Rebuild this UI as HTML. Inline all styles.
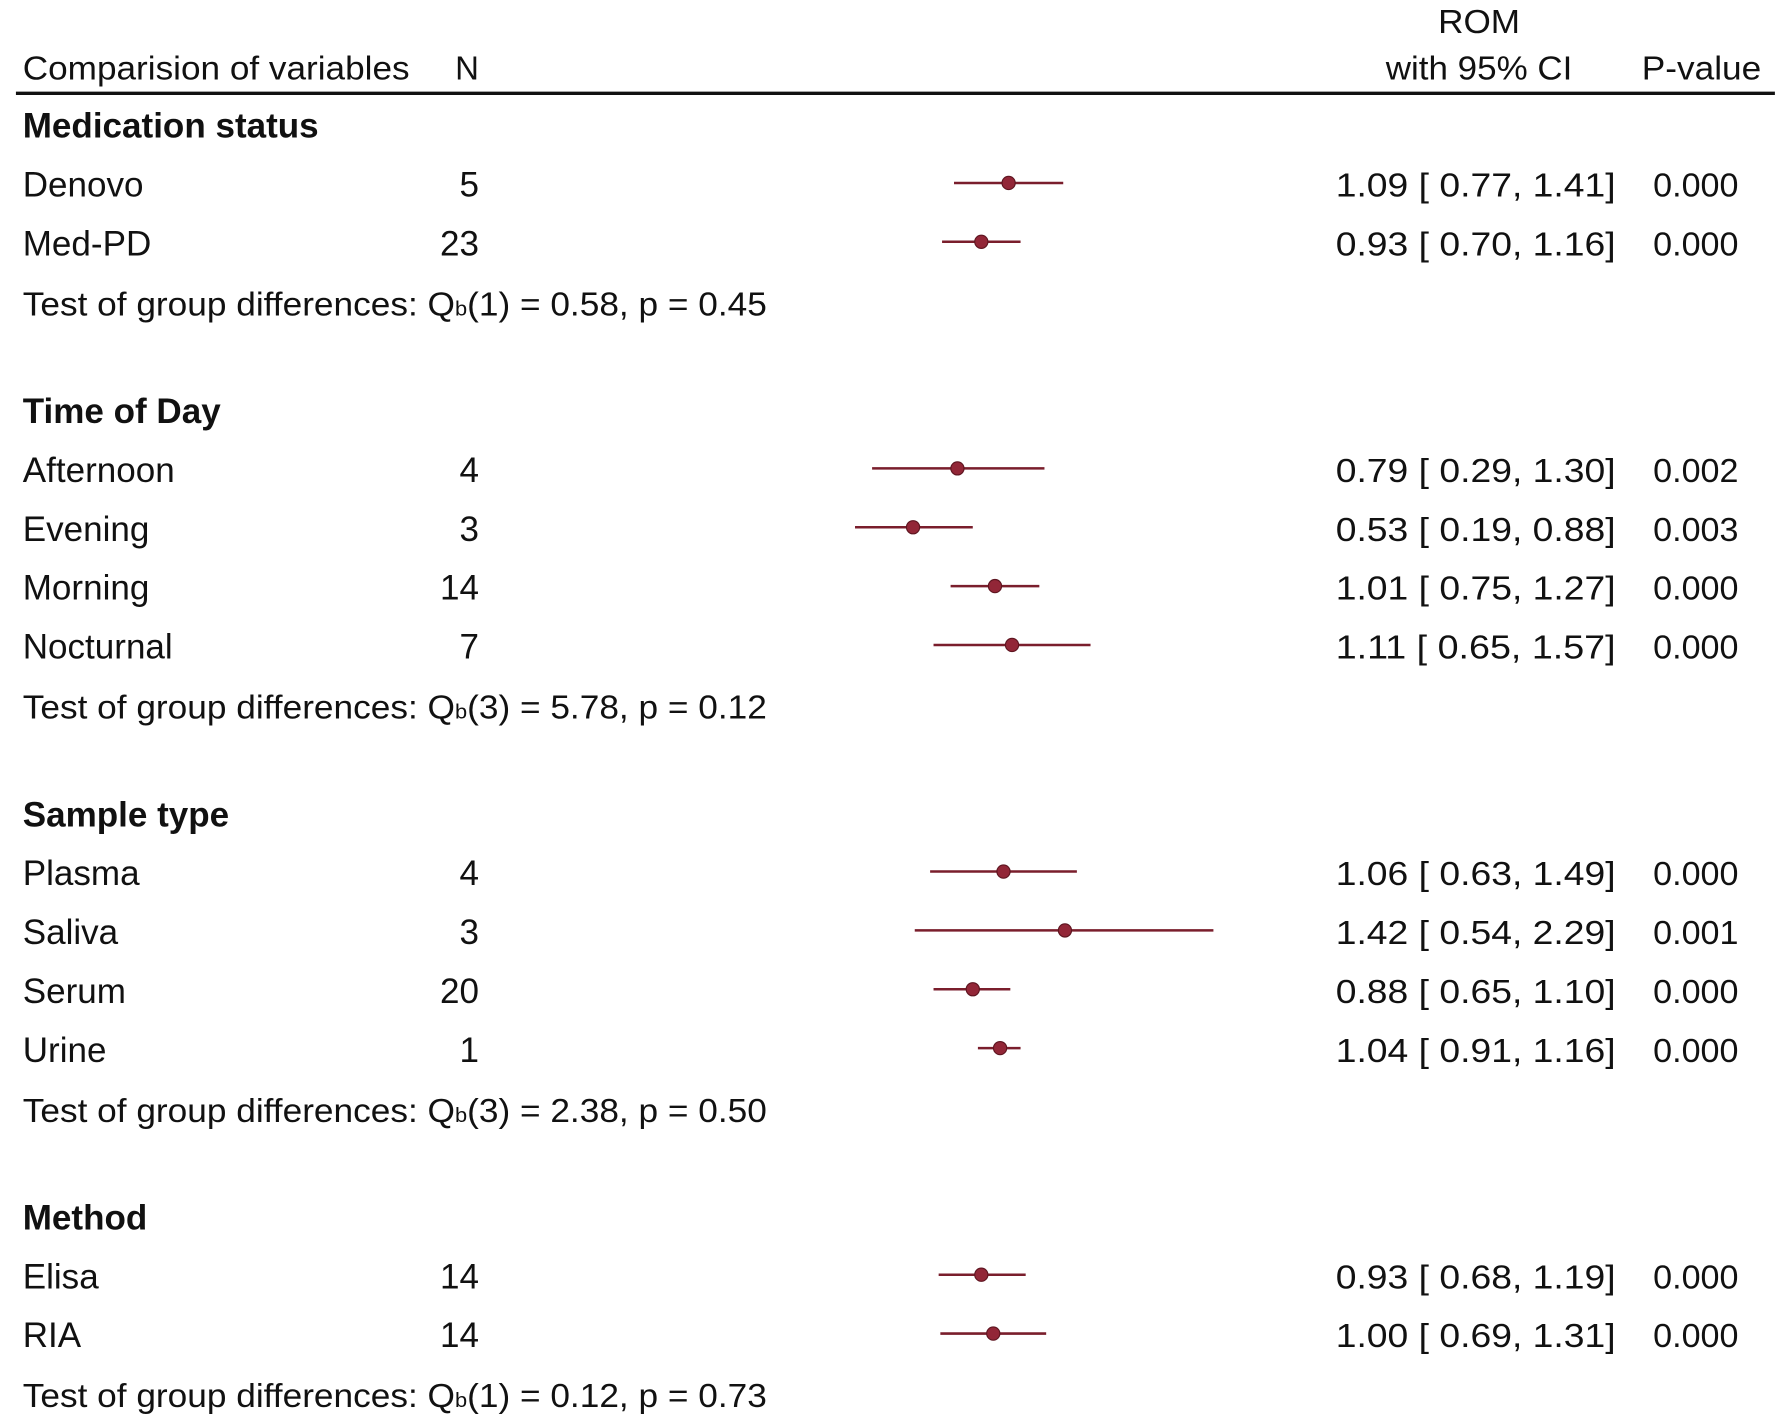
<!DOCTYPE html>
<html><head><meta charset="utf-8">
<style>
html,body{margin:0;padding:0;background:#fff;}
svg{display:block;}
text{font-family:"Liberation Sans",Arial,sans-serif;fill:#111;}
</style></head>
<body>
<svg id="chart" width="1784" height="1423" viewBox="0 0 1568 1250" preserveAspectRatio="none" xmlns="http://www.w3.org/2000/svg">
  <text x="1300" y="29" font-size="29" text-anchor="middle" textLength="72" lengthAdjust="spacingAndGlyphs">ROM</text>
  <text x="20" y="70" font-size="29" textLength="340" lengthAdjust="spacingAndGlyphs">Comparision of variables</text>
  <text x="421" y="70" font-size="29" text-anchor="end">N</text>
  <text x="1218" y="70" font-size="29" textLength="164" lengthAdjust="spacingAndGlyphs">with 95% CI</text>
  <text x="1443" y="70" font-size="29" textLength="105" lengthAdjust="spacingAndGlyphs">P-value</text>
  <line x1="14" x2="1560" y1="82" y2="82" stroke="#111" stroke-width="3"/>
  <g id="rows"></g>
</svg>
<script>
const groupTitles = ["Medication status","Time of Day","Sample type","Method"];
const groupTests = [["1","0.58","0.45"],["3","5.78","0.12"],["3","2.38","0.50"],["1","0.12","0.73"]];
const rowGroup = [0,0,1,1,1,1,2,2,2,2,3,3];
const labels = ["Denovo","Med-PD","Afternoon","Evening","Morning","Nocturnal","Plasma","Saliva","Serum","Urine","Elisa","RIA"];
const nValues = [5,23,4,3,14,7,4,3,20,1,14,14];
const estimates = [1.09,0.93,0.79,0.53,1.01,1.11,1.06,1.42,0.88,1.04,0.93,1.00];
const lowers = [0.77,0.70,0.29,0.19,0.75,0.65,0.63,0.54,0.65,0.91,0.68,0.69];
const uppers = [1.41,1.16,1.30,0.88,1.27,1.57,1.49,2.29,1.10,1.16,1.19,1.31];
const pValues = ["0.000","0.000","0.002","0.003","0.000","0.000","0.000","0.001","0.000","0.000","0.000","0.000"];

const NS = "http://www.w3.org/2000/svg";
const g = document.getElementById("rows");
const xScale = v => 723 + v * 150;
const rowH = 51.7;
const off = 10;
const fs = 29;
const fsL = 30.8;
function mk(tag, attrs, txt){
  const e = document.createElementNS(NS, tag);
  for (const k in attrs) e.setAttribute(k, attrs[k]);
  if (txt !== undefined) e.textContent = txt;
  g.appendChild(e);
  return e;
}
function f2(v){return v.toFixed(2);}
let y = 111;
let ri = 0;
for (let gi = 0; gi < groupTitles.length; gi++){
  const t = mk("text",{x:20,y:y+off,"font-size":fsL,"font-weight":"bold"},groupTitles[gi]);
  
  
  y += rowH;
  while (ri < labels.length && rowGroup[ri] === gi){
    const lab = mk("text",{x:20,y:y+off,"font-size":fsL},labels[ri]);
    
    
    const nt = mk("text",{x:421,y:y+off,"font-size":fsL,"text-anchor":"end"},String(nValues[ri]));
    
    
    const ln = mk("line",{x1:xScale(lowers[ri]),x2:xScale(uppers[ri]),y1:y-2,y2:y-2,stroke:"#7a1e2c","stroke-width":2.2});
    
    
    const dot = mk("circle",{cx:xScale(estimates[ri]),cy:y-2,r:5.8,fill:"#922637",stroke:"#5e1520","stroke-width":1});
    
    
    const ci = mk("text",{x:1174,y:y+off,"font-size":fs,"xml:space":"preserve",textLength:246,lengthAdjust:"spacingAndGlyphs"},
      f2(estimates[ri])+" [  "+f2(lowers[ri])+",  "+f2(uppers[ri])+"]");
    
    
    const pv = mk("text",{x:1453,y:y+off,"font-size":fs,textLength:75,lengthAdjust:"spacingAndGlyphs"},pValues[ri]);
    
    
    y += rowH;
    ri++;
  }
  const tt = mk("text",{x:20,y:y+off+1,"font-size":fs,textLength:654,lengthAdjust:"spacingAndGlyphs"});
  
  
  const a = document.createElementNS(NS,"tspan"); a.textContent = "Test of group differences: Q"; tt.appendChild(a);
  const b = document.createElementNS(NS,"tspan"); b.setAttribute("font-size","18"); b.textContent = "b"; tt.appendChild(b);
  const c = document.createElementNS(NS,"tspan");
  c.textContent = "("+groupTests[gi][0]+") = "+groupTests[gi][1]+", p = "+groupTests[gi][2]; tt.appendChild(c);
  y += rowH * 1.85;
}
</script>
</body></html>
